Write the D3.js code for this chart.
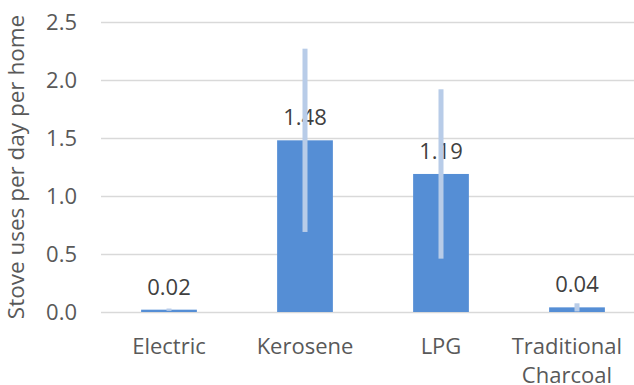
<!DOCTYPE html>
<html>
<head>
<meta charset="utf-8">
<script src="https://cdn.jsdelivr.net/npm/d3@7"></script>
<style>
  body { margin: 0; background: #fff; }
  svg { display: block; }
  text { font-family: "Open Sans", sans-serif; }
</style>
</head>
<body>
<div id="chart"></div>
<script>
// chart values
var categories = ["Electric", "Kerosene", "LPG", "Traditional\nCharcoal"];
var values = [0.02, 1.48, 1.19, 0.04];
var errors = [0.01, 0.79, 0.73, 0.035];
var yTicks = [0.0, 0.5, 1.0, 1.5, 2.0, 2.5];

var width = 634, height = 385;
var margin = { top: 22, right: -11, bottom: 73, left: 101 };
var fontSize = "22px";

var svg = d3.select("#chart")
       .append("svg")
       .attr("width", width)
       .attr("height", height);

var x = d3.scaleBand()
       .domain(categories)
       .range([margin.left, width - margin.right])
       .paddingInner(0.59)
       .paddingOuter(0.295);

var y = d3.scaleLinear()
       .domain([0, 2.5])
       .range([height - margin.bottom, margin.top]);

// gridlines + y labels
var yAxis = svg.append("g")
       .attr("transform", "translate(" + margin.left + ",0)")
       .call(d3.axisLeft(y)
              .tickValues(yTicks)
              .tickSize(-(width - margin.left))
              .tickPadding(24)
              .tickFormat(d3.format(".1f")));
yAxis.select(".domain").remove();
yAxis.selectAll(".tick line").attr("stroke", "#d9d9d9").attr("stroke-width", 1.5);
yAxis.selectAll(".tick text")
       .attr("fill", "#595959")
       .style("font-size", fontSize);

// bars
svg.selectAll("rect.bar")
       .data(values)
       .enter()
       .append("rect")
       .attr("class", "bar")
       .attr("x", function (d, i) { return x(categories[i]); })
       .attr("y", function (d) { return y(d); })
       .attr("width", x.bandwidth())
       .attr("height", function (d) { return y(0) - y(d); })
       .style("fill", "#558ed5");

// value labels
svg.selectAll("text.val")
       .data(values)
       .enter()
       .append("text")
       .attr("class", "val")
       .attr("x", function (d, i) { return x(categories[i]) + x.bandwidth() / 2; })
       .attr("y", function (d) { return y(d) - 15; })
       .attr("text-anchor", "middle")
       .attr("fill", "#404040")
       .style("font-size", fontSize)
       .text(function (d) { return d.toFixed(2); });

// error bars
svg.selectAll("rect.err")
       .data(values)
       .enter()
       .append("rect")
       .attr("class", "err")
       .attr("x", function (d, i) { return x(categories[i]) + x.bandwidth() / 2 - 2.5; })
       .attr("y", function (d, i) { return y(d + errors[i]); })
       .attr("width", 5)
       .attr("height", function (d, i) { return y(Math.max(0, d - errors[i])) - y(d + errors[i]); })
       .style("fill", "#b8cce8");

// category labels
var xl = svg.append("g");
categories.forEach(function (c, i) {
       var cx = x(c) + x.bandwidth() / 2;
       var t = xl.append("text")
              .attr("text-anchor", "middle")
              .attr("fill", "#595959")
              .style("font-size", fontSize);
       c.split("\n").forEach(function (line, j) {
              t.append("tspan")
                     .attr("x", cx)
                     .attr("y", y(0) + 42 + j * 29)
                     .text(line);
       });
       // keep labels inside the right edge
       var bb = t.node().getBBox();
       if (bb.x + bb.width > width - 12) {
              t.attr("transform", "translate(" + (width - 12 - bb.x - bb.width) + ",0)");
       }
});

// y axis title
svg.append("text")
       .attr("transform", "translate(24," + ((margin.top + height - margin.bottom) / 2) + ") rotate(-90)")
       .attr("text-anchor", "middle")
       .attr("fill", "#595959")
       .style("font-size", "22.5px")
       .text("Stove uses per day per home");
</script>
</body>
</html>
